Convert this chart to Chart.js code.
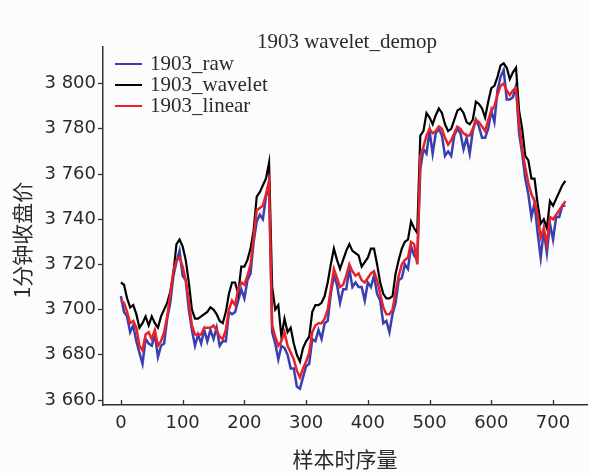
<!DOCTYPE html>
<html>
<head>
<meta charset="utf-8">
<script src="https://cdn.jsdelivr.net/npm/chart.js@4/dist/chart.umd.min.js"></script>
<style>
    html, body { margin: 0; padding: 0; background: #fcfcfc; }
    #wrap { width: 590px; height: 473px; }
</style>
</head>
<body>
<div id="wrap"><canvas id="waveChart" width="590" height="473"></canvas></div>
<script>
// Chart Data (one value every 5 samples)
const chartTitle = '1903 wavelet_demop';
const seriesLabels = ['1903_raw', '1903_wavelet', '1903_linear'];
const seriesColors = ['#3a3fb0', '#000000', '#e8222a'];
const xTitle = '样本时序量';
const yTitle = '1分钟收盘价';
const xTicks = [0, 100, 200, 300, 400, 500, 600, 700];
const yTicks = [3660, 3680, 3700, 3720, 3740, 3760, 3780, 3800];
const sampleStep = 5;

const rawPrice = [
    3706, 3699, 3697, 3690, 3693, 3686, 3681, 3676, 3687, 3685,
    3684, 3689, 3679, 3684, 3685, 3696, 3703, 3715, 3721, 3726,
    3715, 3713, 3700, 3691, 3684, 3689, 3685, 3691, 3686, 3691,
    3687, 3692, 3684, 3686, 3686, 3699, 3698, 3699, 3704, 3709,
    3705, 3713, 3716, 3730, 3739, 3742, 3740, 3750, 3754, 3690,
    3685, 3678, 3684, 3683, 3680, 3674, 3674, 3666, 3665, 3670,
    3675, 3676, 3687, 3686, 3691, 3687, 3694, 3695, 3707, 3715,
    3711, 3703, 3709, 3709, 3718, 3710, 3712, 3710, 3710, 3704,
    3712, 3710, 3715, 3707, 3704, 3694, 3695, 3690, 3698, 3703,
    3713, 3714, 3720, 3718, 3728, 3724, 3722, 3762, 3771, 3769,
    3779, 3769, 3778, 3780, 3777, 3768, 3770, 3768, 3777, 3780,
    3778, 3771, 3776, 3769, 3779, 3784, 3781, 3776, 3776, 3780,
    3788, 3783, 3797, 3803, 3806, 3793, 3793, 3794, 3799, 3778,
    3769, 3758, 3751, 3741, 3747, 3734, 3723, 3735, 3725, 3738,
    3731, 3741, 3741, 3746, 3746
];

const waveletPrice = [
    3712, 3711, 3705, 3701, 3702, 3698, 3692, 3694, 3697, 3693,
    3697, 3694, 3692, 3697, 3700, 3703, 3708, 3716, 3729, 3731,
    3728, 3722, 3712, 3700, 3696, 3696, 3697, 3698, 3699, 3701,
    3700, 3698, 3695, 3694, 3699, 3707, 3712, 3712, 3707, 3719,
    3719, 3722, 3727, 3735, 3750, 3752, 3755, 3758, 3765, 3710,
    3700, 3702, 3688, 3696, 3690, 3692, 3685, 3680, 3677, 3683,
    3686, 3688, 3699, 3702, 3702, 3703, 3706, 3712, 3720, 3727,
    3722, 3718, 3722, 3726, 3729, 3726, 3725, 3724, 3719, 3721,
    3723, 3727, 3727, 3720, 3712, 3707, 3705, 3705, 3706, 3716,
    3722, 3727, 3730, 3731, 3739, 3736, 3734, 3777, 3779, 3787,
    3785, 3782, 3786, 3789, 3787, 3782, 3779, 3780, 3784, 3788,
    3789, 3787, 3783, 3782, 3784, 3792, 3791, 3789, 3785, 3792,
    3798, 3799, 3803, 3808, 3809, 3807, 3802, 3805, 3807, 3788,
    3780, 3768, 3766, 3758, 3758, 3747, 3738, 3740, 3736, 3748,
    3746, 3749, 3752, 3755, 3757
];

const linearPrice = [
    3704, 3703, 3699, 3694, 3695, 3692, 3684, 3682, 3689, 3690,
    3687, 3691, 3684, 3686, 3690, 3697, 3707, 3717, 3722, 3723,
    3719, 3713, 3704, 3693, 3689, 3689, 3689, 3692, 3692, 3692,
    3693, 3691, 3688, 3687, 3691, 3700, 3704, 3702, 3709, 3712,
    3711, 3715, 3720, 3732, 3744, 3745, 3746, 3751, 3757, 3693,
    3688, 3684, 3686, 3690, 3684, 3681, 3678, 3673, 3670, 3674,
    3677, 3681, 3690, 3693, 3694, 3694, 3696, 3700, 3709, 3718,
    3714, 3710, 3711, 3715, 3720, 3717, 3715, 3716, 3713, 3712,
    3714, 3716, 3717, 3713, 3707, 3701, 3698, 3698, 3700, 3708,
    3715, 3720, 3722, 3723, 3730, 3729, 3720, 3768, 3772, 3777,
    3780, 3778, 3779, 3781, 3780, 3776, 3773, 3775, 3778, 3781,
    3780, 3778, 3777, 3777, 3780, 3784, 3783, 3781, 3779, 3784,
    3788, 3790, 3795, 3799, 3800, 3797, 3795, 3797, 3798, 3783,
    3771, 3763, 3756, 3751, 3748, 3742, 3732, 3736, 3729, 3741,
    3740, 3742, 3744, 3746, 3748
];

const axisColor = '#333333';
const textColor = '#2a2a2a';

// Pair each value with its sample index
function toPoints(values) {
    return values.map((v, i) => ({ x: i * sampleStep, y: v }));
}

// "3800" -> "3 800"
function spaced(v) {
    return String(v).replace(/\B(?=(\d{3})+(?!\d))/g, ' ');
}

// Title, legend, y title and inward x ticks
const overlayPlugin = {
    id: 'overlay',
    afterDraw(chart) {
        const ctx = chart.ctx;
        const area = chart.chartArea;
        const xScale = chart.scales.x;
        ctx.save();

        // x ticks point into the plot
        ctx.strokeStyle = axisColor;
        ctx.lineWidth = 1.3;
        xScale.ticks.forEach(t => {
            const px = Math.round(xScale.getPixelForValue(t.value)) + 0.5;
            ctx.beginPath();
            ctx.moveTo(px, area.bottom);
            ctx.lineTo(px, area.bottom - 5);
            ctx.stroke();
        });

        // chart title
        ctx.fillStyle = textColor;
        ctx.font = '21px "Liberation Serif"';
        ctx.textAlign = 'center';
        ctx.textBaseline = 'middle';
        ctx.fillText(chartTitle, 347, 42);

        // legend, top-left inside the plot
        ctx.textAlign = 'left';
        seriesLabels.forEach((label, i) => {
            const y = 64 + i * 21;
            ctx.strokeStyle = seriesColors[i];
            ctx.lineWidth = 2;
            ctx.beginPath();
            ctx.moveTo(115, y);
            ctx.lineTo(142, y);
            ctx.stroke();
            ctx.fillText(label, 150, y);
        });

        // y axis title
        ctx.translate(22, 240);
        ctx.rotate(-Math.PI / 2);
        ctx.textAlign = 'center';
        ctx.font = '21px "Noto Sans CJK SC"';
        ctx.fillText(yTitle, 0, 0);

        ctx.restore();
    }
};

// Wavelet Chart (Line)
function initWaveChart() {
    const waveCtx = document.getElementById('waveChart');
    if (!waveCtx) return;

    new Chart(waveCtx, {
        type: 'line',
        data: {
            datasets: [
                { label: seriesLabels[0], data: toPoints(rawPrice), borderColor: seriesColors[0], borderWidth: 2.5, order: 3 },
                { label: seriesLabels[1], data: toPoints(waveletPrice), borderColor: seriesColors[1], borderWidth: 2.2, order: 2 },
                { label: seriesLabels[2], data: toPoints(linearPrice), borderColor: seriesColors[2], borderWidth: 2.5, order: 1 }
            ]
        },
        options: {
            responsive: false,
            animation: false,
            devicePixelRatio: 1,
            layout: { padding: { top: 47, right: 3, left: 0, bottom: 0 } },
            elements: {
                point: { radius: 0 },
                line: { tension: 0, fill: false }
            },
            plugins: {
                legend: { display: false },
                tooltip: { enabled: false }
            },
            scales: {
                x: {
                    type: 'linear',
                    min: -29,
                    max: 755,
                    afterBuildTicks: s => { s.ticks = xTicks.map(v => ({ value: v })); },
                    afterFit: s => { s.height = 68; },
                    grid: { display: false, drawTicks: false },
                    border: { display: true, color: axisColor, width: 1.5 },
                    ticks: {
                        color: textColor,
                        padding: 8,
                        maxRotation: 0,
                        font: { family: 'DejaVu Sans', size: 18 }
                    },
                    title: {
                        display: true,
                        text: xTitle,
                        color: textColor,
                        padding: { top: 0, bottom: 1 },
                        font: { family: 'Noto Sans CJK SC', size: 21 }
                    }
                },
                y: {
                    min: 3657.8,
                    max: 3816.2,
                    afterBuildTicks: s => { s.ticks = yTicks.map(v => ({ value: v })); },
                    afterFit: s => { s.width = 103; },
                    grid: { drawOnChartArea: false, tickLength: 5, color: axisColor, tickWidth: 1.3 },
                    border: { display: true, color: axisColor, width: 1.5 },
                    ticks: {
                        color: textColor,
                        padding: 2,
                        callback: v => spaced(v),
                        font: { family: 'DejaVu Sans', size: 18 }
                    }
                }
            }
        },
        plugins: [overlayPlugin]
    });
}

initWaveChart();
</script>
</body>
</html>
